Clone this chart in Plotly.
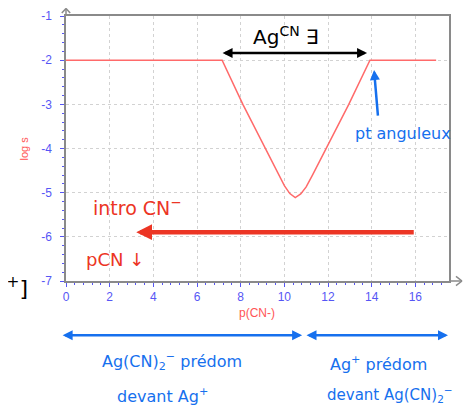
import plotly.graph_objects as go

# ---- data ----
p_cn = [0, 7.15, 8.1, 9.12, 9.7, 10.0, 10.25, 10.5, 10.75, 11.0, 11.3, 11.9, 12.95, 13.92, 16.95]
log_s = [-2, -2, -3, -4, -4.55, -4.84, -5.02, -5.11, -5.03, -4.87, -4.59, -4, -3, -2, -2]
x_ticks = [0, 2, 4, 6, 8, 10, 12, 14, 16]
y_ticks = [-1, -2, -3, -4, -5, -6, -7]

OFF = 8  # page body margin
W, H = 475 - OFF, 415 - OFF
# plot area in window pixels
L, R, T, B = 65.7, 449, 16, 280.7
XMAX = 17.54
YMIN, YMAX = -7, -1


def px(x):
    return (x - L) / (R - L)


def py(y):
    return (B - y) / (B - T)


BLUE_AX = "#5656f5"
RED_T = "#ff5555"
HAND_BLUE = "#1670ee"
HAND_RED = "#ec3524"

fig = go.Figure()
fig.add_trace(go.Scatter(x=p_cn, y=log_s, mode="lines",
                         line=dict(color="#ff6a6a", width=1.5),
                         hoverinfo="skip", showlegend=False))

axis_common = dict(
    showline=True, linecolor="#8a8a8a", linewidth=1.5, mirror=True,
    showgrid=True, gridcolor="#d2d2d2", griddash="dot", gridwidth=1,
    ticks="outside", ticklen=4, tickcolor=BLUE_AX, tickwidth=1,
    tickfont=dict(family="Liberation Sans, Arial", size=12, color=BLUE_AX),
    zeroline=False, automargin=False,
)

fig.update_xaxes(range=[0, XMAX], tickvals=x_ticks, ticktext=[str(v) for v in x_ticks],
                 minor=dict(dtick=0.4, ticks="outside", ticklen=2, tickcolor=BLUE_AX, showgrid=False),
                 **axis_common)
fig.update_yaxes(range=[YMIN, YMAX], tickvals=y_ticks, ticktext=[str(v) for v in y_ticks],
                 minor=dict(dtick=0.2, ticks="outside", ticklen=2, tickcolor=BLUE_AX, showgrid=False),
                 ticklabelstandoff=6, **axis_common)

shapes = []


def seg(x0, y0, x1, y1, color, width):
    shapes.append(dict(type="line", xref="paper", yref="paper", x0=px(x0), y0=py(y0), x1=px(x1), y1=py(y1),
                       line=dict(color=color, width=width)))


# axis arrow heads (open chevrons)
seg(449, 280.7, 462, 280.7, "#8a8a8a", 1.5)
seg(456, 276, 462, 280.7, "#8a8a8a", 1.5)
seg(456, 285.4, 462, 280.7, "#8a8a8a", 1.5)
seg(65.7, 16, 65.7, 8.5, "#8a8a8a", 1.5)
seg(61.5, 13, 65.7, 8.5, "#8a8a8a", 1.5)
seg(69.9, 13, 65.7, 8.5, "#8a8a8a", 1.5)

annotations = []


def text(x, y, s, color, size, family="DejaVu Sans", xanchor="center", **kw):
    annotations.append(dict(x=px(x), y=py(y), xref="paper", yref="paper", text=s, showarrow=False,
                            xanchor=xanchor, yanchor="middle",
                            font=dict(family=family, size=size, color=color), **kw))


def arrow(x0, y0, x1, y1, color, width, side="end", head=2, size=1.0):
    # head at (x1, y1); tail offset in pixels
    annotations.append(dict(x=px(x1), y=py(y1), ax=x0 - x1, ay=y0 - y1, xref="paper", yref="paper",
                            axref="pixel", ayref="pixel", text="", showarrow=True, arrowcolor=color,
                            arrowwidth=width, arrowhead=head, arrowsize=size, arrowside=side))


# axis titles
text(24, 148, "log s", RED_T, 11, family="Liberation Sans, Arial", textangle=-90)
text(257, 313, "p(CN-)", RED_T, 12, family="Liberation Sans, Arial")

# handwritten notes
text(286, 36, "Ag<sup>CN</sup> ∃", "black", 20)
arrow(221, 53, 367, 53, "black", 2.5, side="end+start", head=2, size=0.8)

text(403, 133, "pt anguleux", HAND_BLUE, 16)
arrow(378, 117, 374, 70, HAND_BLUE, 2.5, head=2, size=0.8)

text(137, 207, "intro CN<sup>−</sup>", HAND_RED, 19)
text(115, 259, "pCN ↓", HAND_RED, 18)
arrow(415, 232, 136, 232, HAND_RED, 4.5, head=2, size=0.7)

text(30, 287, "[Ag<sup>+</sup>]", "black", 22, xanchor="right")

arrow(61, 335, 302, 335, HAND_BLUE, 2.5, side="end+start", head=2, size=0.8)
arrow(305, 335, 448, 335, HAND_BLUE, 2.5, side="end+start", head=2, size=0.8)
text(172, 361, "Ag(CN)<sub>2</sub><sup>−</sup> prédom", HAND_BLUE, 16)
text(162, 395, "devant Ag<sup>+</sup>", HAND_BLUE, 16)
text(378, 363, "Ag<sup>+</sup> prédom", HAND_BLUE, 16)
text(390, 394, "devant Ag(CN)<sub>2</sub><sup>−</sup>", HAND_BLUE, 15)

fig.update_layout(
    width=W, height=H,
    margin=dict(l=L - OFF, r=W - (R - OFF), t=T - OFF, b=H - (B - OFF), pad=0, autoexpand=False),
    paper_bgcolor="white", plot_bgcolor="white",
    shapes=shapes, annotations=annotations,
    showlegend=False,
)

fig.write_html("out.html")
